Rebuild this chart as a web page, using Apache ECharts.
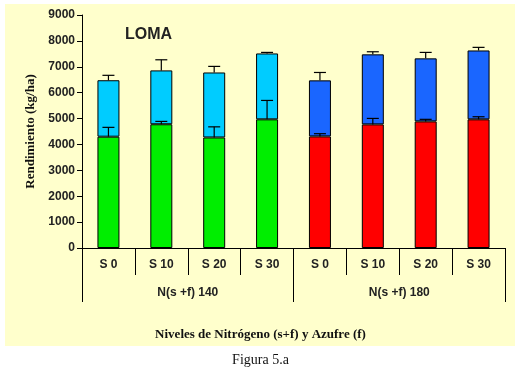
<!DOCTYPE html>
<html><head><meta charset="utf-8">
<script src="https://cdn.jsdelivr.net/npm/echarts@6/dist/echarts.min.js"></script>
<style>html,body{margin:0;padding:0;background:#fff}#c{width:521px;height:371px}</style>
</head><body><div id="c"></div>
<script>
const categories = ['S 0','S 10','S 20','S 30','S 0','S 10','S 20','S 30'];
const groups = ['N(s +f) 140','N(s +f) 180'];
const baseValues = [4300, 4780, 4270, 4970, 4310, 4775, 4890, 4970];
const baseErrTop = [4660, 4890, 4680, 5700, 4415, 5005, 4970, 5070];
const totalValues = [6480, 6860, 6780, 7515, 6475, 7480, 7325, 7630];
const totalErrTop = [6670, 7270, 7015, 7555, 6780, 7580, 7555, 7750];
const yTicks = [0,1000,2000,3000,4000,5000,6000,7000,8000,9000];

const baseColors = ['#00ee00','#00ee00','#00ee00','#00ee00','#ff0000','#ff0000','#ff0000','#ff0000'];
const topColors = ['#00ccff','#00ccff','#00ccff','#00ccff','#1a66ff','#1a66ff','#1a66ff','#1a66ff'];

const chart = echarts.init(document.getElementById('c'), null, {renderer:'canvas'});

function errRender(params, api){
  const x = api.value(0), lo = api.value(1), hi = api.value(2);
  const p0 = api.coord([x, lo]), p1 = api.coord([x, hi]);
  const hw = 6;
  return {type:'group', children:[
    {type:'line', shape:{x1:p0[0],y1:p0[1],x2:p1[0],y2:p1[1]}, style:{stroke:'#000',lineWidth:1.2}},
    {type:'line', shape:{x1:p1[0]-hw,y1:p1[1],x2:p1[0]+hw,y2:p1[1]}, style:{stroke:'#000',lineWidth:1.2}}
  ]};
}

const option = {
  backgroundColor:'#ffffff',
  animation:false,
  graphic:[{type:'rect', z:-10, shape:{x:5,y:4,width:510,height:342}, style:{fill:'#ffffcc'}}],
  title:[
    {text:'LOMA', left:120, top:22, textStyle:{fontFamily:'Arial, Liberation Sans',fontWeight:'bold',fontSize:16,color:'#222'}},
    {text:'Niveles de Nitrógeno (s+f) y Azufre (f)', left:'center', top:323, textStyle:{fontFamily:'Liberation Serif, Times New Roman',fontWeight:'bold',fontSize:13,color:'#111'}},
    {text:'Figura 5.a', left:'center', top:348, textStyle:{fontFamily:'Liberation Serif, Times New Roman',fontWeight:'normal',fontSize:14,color:'#111'}}
  ],
  grid:{left:82, right:16, top:15, bottom:123},
  xAxis:[
    {type:'category', data:categories, position:'bottom',
     axisLine:{lineStyle:{color:'#000',width:1}},
     axisTick:{show:true, length:27, alignWithLabel:false, lineStyle:{color:'#000'}},
     axisLabel:{margin:11, fontFamily:'Arial, Liberation Sans', fontWeight:'bold', fontSize:12, color:'#222'}},
    {type:'category', data:groups, position:'bottom',
     axisLine:{show:false},
     axisTick:{show:true, length:54, alignWithLabel:false, lineStyle:{color:'#000'}},
     axisLabel:{margin:39, fontFamily:'Arial, Liberation Sans', fontWeight:'bold', fontSize:12, color:'#222'}}
  ],
  yAxis:{type:'value', min:yTicks[0], max:yTicks[yTicks.length-1], interval:1000,
    name:'Rendimiento (kg/ha)', nameLocation:'middle', nameGap:40,
    nameTextStyle:{fontFamily:'Liberation Serif, Times New Roman', fontWeight:'bold', fontSize:13, color:'#111'},
    axisLine:{show:true, lineStyle:{color:'#000'}},
    axisTick:{show:true, length:5, lineStyle:{color:'#000'}},
    splitLine:{show:false},
    axisLabel:{margin:7, formatter:(v)=>String(v), fontFamily:'Arial, Liberation Sans', fontWeight:'bold', fontSize:12, color:'#222'}},
  series:[
    {type:'bar', stack:'s', barWidth:22, xAxisIndex:0,
     data: baseValues.map((v,i)=>({value:v, itemStyle:{color:baseColors[i]}})),
     itemStyle:{borderColor:'#000', borderWidth:1}},
    {type:'bar', stack:'s', barWidth:22, xAxisIndex:0,
     data: totalValues.map((v,i)=>({value:v-baseValues[i], itemStyle:{color:topColors[i]}})),
     itemStyle:{borderColor:'#000', borderWidth:1}},
    {type:'custom', xAxisIndex:0, renderItem:errRender, z:5,
     data: baseValues.map((v,i)=>[i, v, baseErrTop[i]])},
    {type:'custom', xAxisIndex:0, renderItem:errRender, z:5,
     data: totalValues.map((v,i)=>[i, v, totalErrTop[i]])}
  ]
};
chart.setOption(option);
</script></body></html>
